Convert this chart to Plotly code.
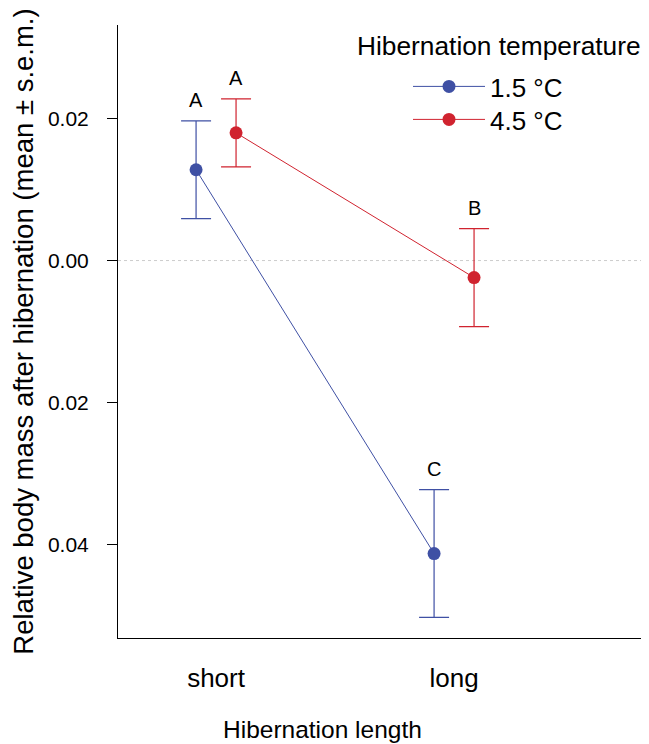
import plotly.graph_objects as go

# ---- data ----
lengths = ["short", "long"]
temps = ["1.5 °C", "4.5 °C"]
mean_15 = [0.0128, -0.0413]
sem_15 = [0.0069, 0.0090]
mean_45 = [0.0180, -0.0024]
sem_45 = [0.0048, 0.0069]
letters_15 = ["A", "C"]
letters_45 = ["A", "B"]
ytick_vals = [0.02, 0.0, -0.02, -0.04]
ytick_text = ["0.02", "0.00", "0.02", "0.04"]
legend_title = "Hibernation temperature"

colors = {"1.5 °C": "#3F50A4", "4.5 °C": "#D0232F"}
dodge = 0.084
pos = [1, 2]
FONT = "Liberation Sans, Arial, Helvetica, sans-serif"

fig = go.Figure()
series = [("1.5 °C", mean_15, sem_15, letters_15, -dodge, "legend"),
          ("4.5 °C", mean_45, sem_45, letters_45, dodge, "legend2")]
for name, m, s, lets, off, leg in series:
    xs = [p + off for p in pos]
    fig.add_trace(go.Scatter(
        x=xs, y=m, name=name, mode="lines+markers", legend=leg,
        line=dict(color=colors[name], width=1),
        marker=dict(color=colors[name], size=13),
        error_y=dict(type="data", array=s, visible=True, color=colors[name],
                     thickness=1.2, width=15),
    ))
    for xv, mv, sv, lt in zip(xs, m, s, lets):
        fig.add_annotation(x=xv, y=mv + sv, text=lt, showarrow=False,
                           yanchor="bottom", yshift=8,
                           font=dict(size=20, color="black", family=FONT))

fig.add_shape(type="line", xref="paper", x0=0, x1=1, yref="y", y0=0, y1=0,
              line=dict(color="#cccccc", width=1, dash="dot"), layer="below")

leg_common = dict(font=dict(size=26), x=(408 - 118) / 531, xanchor="left",
                  yanchor="top", bgcolor="rgba(0,0,0,0)", itemwidth=72)

fig.update_layout(
    width=641, height=736,
    margin=dict(l=110, r=0, t=17, b=106),
    plot_bgcolor="white", paper_bgcolor="white",
    font=dict(family=FONT, color="black"),
    showlegend=True,
    legend=dict(y=(638 - 63) / 613, **leg_common),
    legend2=dict(y=(638 - 96) / 613, **leg_common),
    xaxis=dict(
        range=[0.588, 2.819], tickvals=pos, ticktext=lengths,
        showline=True, linecolor="black", linewidth=1, ticks="",
        showgrid=False, zeroline=False, tickfont=dict(size=26),
        ticklabelstandoff=17,
    ),
    yaxis=dict(
        range=[-0.0532, 0.0332], tickvals=ytick_vals, ticktext=ytick_text,
        showline=True, linecolor="black", linewidth=1, ticks="outside",
        ticklen=10, tickcolor="black", showgrid=False, zeroline=False,
        tickfont=dict(size=21), ticklabelstandoff=14,
        title=dict(text="Relative body mass after hibernation (mean ± s.e.m.)",
                   font=dict(size=27.5), standoff=10),
    ),
)

fig.add_annotation(text=legend_title, xref="paper", yref="paper",
                   x=(499 - 118) / 531, y=(638 - 46) / 613,
                   xanchor="center", yanchor="middle", showarrow=False,
                   font=dict(size=26.3, color="black", family=FONT))

fig.add_annotation(text="Hibernation length", xref="paper", yref="paper",
                   x=(322 - 118) / 531, y=-0.150, xanchor="center", yanchor="middle",
                   showarrow=False, font=dict(size=24.5, color="black", family=FONT))

fig.write_html("out.html")
